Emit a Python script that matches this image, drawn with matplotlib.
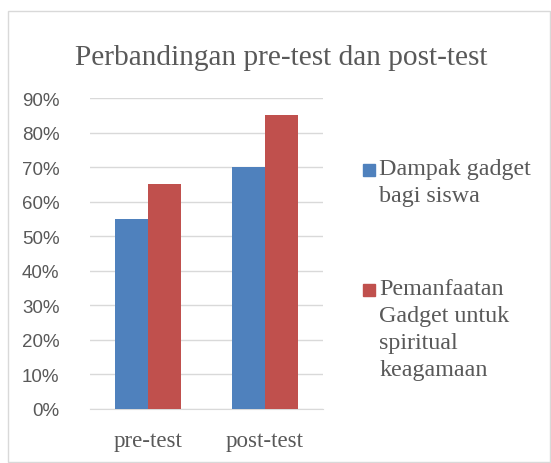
import matplotlib
matplotlib.use('Agg')
import matplotlib.pyplot as plt
from matplotlib.patches import Rectangle
from matplotlib.ticker import PercentFormatter
import numpy as np

# data
categories = ['pre-test', 'post-test']
series_names = ['Dampak gadget\nbagi siswa',
                'Pemanfaatan\nGadget untuk\nspiritual\nkeagamaan']
dampak = [0.55, 0.70]
pemanfaatan = [0.65, 0.85]
colors = ['#4F81BD', '#C0504D']

text_col = '#595959'
serif = 'Liberation Serif'
sans = 'Liberation Sans'

fig = plt.figure(figsize=(5.51, 4.64), dpi=100)
W, H = 551, 464

# outer chart border
fig.add_artist(Rectangle((8 / W, 1 - 463 / H), 542 / W, 451 / H,
                         transform=fig.transFigure, fill=False,
                         edgecolor='#D9D9D9', linewidth=1.0))

ax = fig.add_axes([90 / W, 1 - 410 / H, 233 / W, 311 / H])
x = np.arange(len(categories))
bw = 0.285
ax.bar(x - bw / 2, dampak, bw, color=colors[0], zorder=3)
ax.bar(x + bw / 2, pemanfaatan, bw, color=colors[1], zorder=3)

ax.set_xlim(-0.5, 1.5)
ax.set_ylim(0, 0.9)
ax.set_yticks(np.arange(0, 0.91, 0.1))
ax.yaxis.set_major_formatter(PercentFormatter(1.0, decimals=0))
ax.grid(axis='y', color='#D9D9D9', linewidth=1.0, zorder=0)
for s in ['top', 'right', 'left']:
    ax.spines[s].set_visible(False)
ax.spines['bottom'].set_color('#D9D9D9')
ax.tick_params(axis='both', length=0)
ax.tick_params(axis='y', labelsize=13.5, labelcolor=text_col, pad=22)
ax.set_yticklabels([f'{int(round(v * 100))}%' for v in ax.get_yticks()],
                   fontfamily=sans)
ax.set_xticks(x)
ax.set_xticklabels(categories, fontfamily=serif, fontsize=16.5, color=text_col)
ax.tick_params(axis='x', pad=15)

fig.text(281 / W, 1 - 58 / H, 'Perbandingan pre-test dan post-test',
         ha='center', va='center', fontfamily=serif, fontsize=21.2,
         color=text_col)

# legend
leg_y = [171, 291]
for name, c, yy in zip(series_names, colors, leg_y):
    fig.add_artist(Rectangle((363 / W, 1 - (yy + 6) / H), 12 / W, 12 / H,
                             transform=fig.transFigure, color=c))
    fig.text(379 / W, 1 - (yy - 12) / H, name, ha='left', va='top',
             fontfamily=serif, fontsize=17.3, color=text_col,
             linespacing=1.38)

fig.savefig('out.png', dpi=100)
